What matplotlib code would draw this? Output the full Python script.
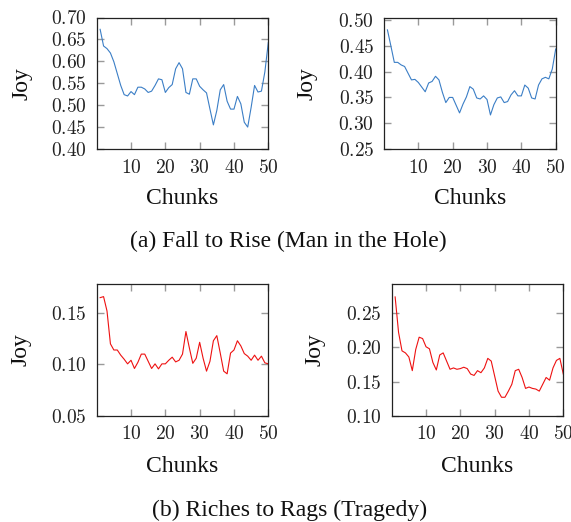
import numpy as np
import matplotlib
matplotlib.use('Agg')
import matplotlib.pyplot as plt
from matplotlib.ticker import FuncFormatter, MultipleLocator

plt.rcParams['mathtext.fontset'] = 'cm'
plt.rcParams['font.family'] = ['Liberation Serif', 'DejaVu Serif']

chunks = np.arange(1, 51)

# (a) Fall to Rise (Man in the Hole)
joy_a1 = [0.673, 0.635, 0.629, 0.619, 0.599, 0.572, 0.545, 0.524, 0.521, 0.531,
          0.524, 0.541, 0.541, 0.537, 0.529, 0.532, 0.545, 0.560, 0.558, 0.529,
          0.540, 0.547, 0.583, 0.597, 0.583, 0.529, 0.525, 0.560, 0.560, 0.543,
          0.535, 0.528, 0.491, 0.455, 0.488, 0.535, 0.547, 0.509, 0.491, 0.491,
          0.520, 0.503, 0.461, 0.450, 0.495, 0.545, 0.530, 0.532, 0.576, 0.643]
joy_a2 = [0.481, 0.450, 0.418, 0.418, 0.413, 0.410, 0.397, 0.384, 0.385, 0.379,
          0.370, 0.361, 0.378, 0.381, 0.391, 0.384, 0.360, 0.340, 0.350, 0.350,
          0.335, 0.320, 0.337, 0.351, 0.371, 0.366, 0.349, 0.347, 0.353, 0.346,
          0.316, 0.336, 0.349, 0.351, 0.340, 0.342, 0.355, 0.363, 0.353, 0.353,
          0.374, 0.368, 0.349, 0.347, 0.374, 0.386, 0.389, 0.386, 0.405, 0.444]

# (b) Riches to Rags (Tragedy)
joy_b1 = [0.165, 0.166, 0.152, 0.120, 0.114, 0.114, 0.109, 0.105, 0.1005, 0.104,
          0.096, 0.102, 0.110, 0.110, 0.103, 0.096, 0.1005, 0.0956, 0.1005, 0.1005,
          0.104, 0.107, 0.1024, 0.104, 0.110, 0.132, 0.116, 0.101, 0.106, 0.1215,
          0.106, 0.0934, 0.103, 0.123, 0.128, 0.111, 0.0934, 0.0908, 0.111, 0.114,
          0.123, 0.118, 0.1105, 0.108, 0.104, 0.109, 0.104, 0.108, 0.1015, 0.1005]
joy_b2 = [0.274, 0.222, 0.195, 0.192, 0.186, 0.166, 0.197, 0.215, 0.213, 0.201,
          0.198, 0.178, 0.167, 0.189, 0.192, 0.180, 0.168, 0.170, 0.168, 0.169,
          0.171, 0.169, 0.161, 0.159, 0.166, 0.163, 0.170, 0.184, 0.180, 0.158,
          0.136, 0.127, 0.127, 0.136, 0.146, 0.166, 0.168, 0.156, 0.140, 0.142,
          0.140, 0.139, 0.136, 0.146, 0.156, 0.152, 0.170, 0.181, 0.184, 0.161]

blue = '#3b7ec6'
red = '#ee1111'

W, H = 571, 522
fig = plt.figure(figsize=(W / 100, H / 100), dpi=100)

def px_axes(left, top, right, bottom):
    return fig.add_axes([left / W, 1 - bottom / H, (right - left) / W, (bottom - top) / H])

panels = [
    # rect (px), data, color, ylim, yticks, joy x, chunks y
    ((96.7, 17.5, 268.3, 149.0), joy_a1, blue, (0.40, 0.70), np.arange(0.40, 0.701, 0.05), -0.435, -0.373),
    ((384.0, 17.5, 555.7, 149.0), joy_a2, blue, (0.25, 0.505), np.arange(0.25, 0.501, 0.05), -0.448, -0.373),
    ((96.7, 284.3, 268.3, 415.7), joy_b1, red, (0.05, 0.178), np.arange(0.05, 0.151, 0.05), -0.441, -0.383),
    ((391.7, 284.3, 563.3, 415.7), joy_b2, red, (0.10, 0.2925), np.arange(0.10, 0.251, 0.05), -0.447, -0.383),
]

for rect, y, col, ylim, yticks, jx, cy in panels:
    ax = px_axes(*rect)
    ax.plot(chunks, y, color=col, lw=0.8)
    ax.set_xlim(0, 50)
    ax.set_ylim(*ylim)
    ax.xaxis.set_major_locator(MultipleLocator(10))
    ax.set_xticks([10, 20, 30, 40, 50])
    ax.set_yticks(yticks)
    ax.xaxis.set_major_formatter(FuncFormatter(lambda v, p: r'$%d$' % round(v)))
    ax.yaxis.set_major_formatter(FuncFormatter(lambda v, p: r'$%.2f$' % v))
    ax.tick_params(direction='in', top=True, right=True, length=5, width=1.0,
                   color='#9a9a9a', labelsize=14, labelcolor='#222222', pad=7)
    for s in ax.spines.values():
        s.set_linewidth(0.9)
        s.set_color('#222222')
    ax.text(jx, 0.5, 'Joy', rotation=90, transform=ax.transAxes,
            ha='center', va='center', fontsize=17, color='#111111')
    ax.text(0.5, cy, 'Chunks', transform=ax.transAxes,
            ha='center', va='center', fontsize=17, color='#111111')

fig.text(288 / W, 1 - 241 / H, '(a) Fall to Rise (Man in the Hole)',
         ha='center', va='center', fontsize=17, color='#111111')
fig.text(290 / W, 1 - 510 / H, '(b) Riches to Rags (Tragedy)',
         ha='center', va='center', fontsize=17, color='#111111')

fig.savefig('out.png', dpi=100)
